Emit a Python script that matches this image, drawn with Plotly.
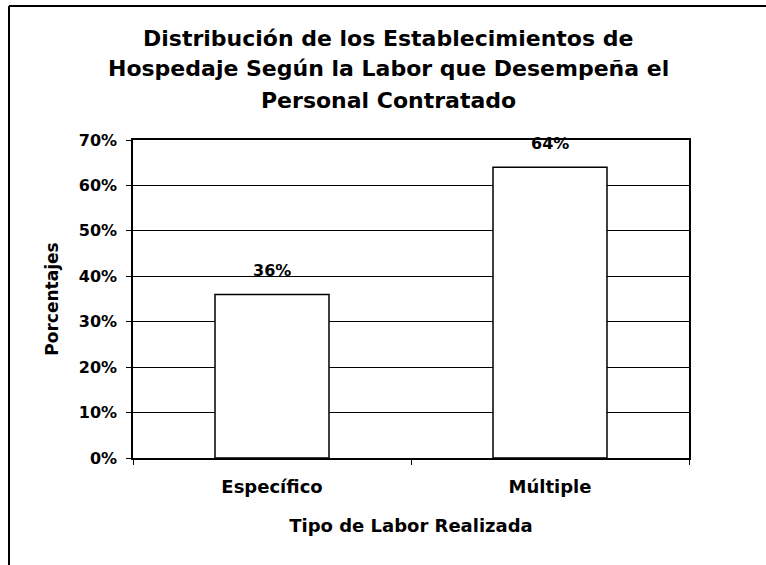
import plotly.graph_objects as go

categories = ["Específico", "Múltiple"]
values = [36, 64]
y_ticks = [0, 10, 20, 30, 40, 50, 60, 70]
y_tick_labels = [f"{v}%" for v in y_ticks]
title_lines = ["Distribución de los Establecimientos de",
               "Hospedaje Según la Labor que Desempeña el",
               "Personal Contratado"]

FONT = "DejaVu Sans"
W, H = 766, 565
L, R, T, B = 133, 77, 140, 107

fig = go.Figure()
fig.add_trace(go.Bar(
    x=categories, y=values,
    marker=dict(color="white", line=dict(color="black", width=1.5)),
    width=0.41,
    hoverinfo="skip",
))

for c, v in zip(categories, values):
    fig.add_annotation(x=c, y=v, text=f"{v}%", showarrow=False, yshift=24,
                       yanchor="middle", font=dict(family=FONT, size=16, color="black", weight=700))

pw = W - L - R
ph = H - T - B
def px_x(x):
    return (x - L) / pw
def px_y(y):
    return (H - B - y) / ph

for line, yc in zip(title_lines, [38, 69, 100]):
    fig.add_annotation(xref="paper", yref="paper", x=px_x(388), y=px_y(yc),
                       xanchor="center", yanchor="middle", showarrow=False, text=line,
                       font=dict(family=FONT, size=22, color="black", weight=700))

# frame lines of the scanned figure (left and top)
fig.add_shape(type="line", xref="paper", yref="paper",
              x0=px_x(9), x1=px_x(9), y0=px_y(6), y1=px_y(570),
              line=dict(color="black", width=2))
fig.add_shape(type="line", xref="paper", yref="paper",
              x0=px_x(9), x1=px_x(770), y0=px_y(6), y1=px_y(6),
              line=dict(color="black", width=2))

fig.update_layout(
    width=W, height=H,
    margin=dict(l=L, r=R, t=T, b=B, autoexpand=False),
    paper_bgcolor="white", plot_bgcolor="white",
    showlegend=False,
    xaxis=dict(
        showline=True, linecolor="black", linewidth=1.5, mirror=True,
        ticks="outside", ticklen=5, tickcolor="black", tickson="boundaries",
        showgrid=False,
        tickfont=dict(family=FONT, size=18, color="black", weight=700),
        ticklabelstandoff=12,
        title=dict(text="Tipo de Labor Realizada", standoff=23,
                   font=dict(family=FONT, size=18, color="black", weight=700)),
    ),
    yaxis=dict(
        range=[0, 70], tickvals=y_ticks, ticktext=y_tick_labels,
        showline=True, linecolor="black", linewidth=1.5, mirror=True,
        ticks="outside", ticklen=5, tickcolor="black",
        showgrid=True, gridcolor="black", gridwidth=1,
        zeroline=False,
        tickfont=dict(family=FONT, size=16, color="black", weight=700),
        ticklabelstandoff=6,
        title=dict(text="Porcentajes", standoff=16,
                   font=dict(family=FONT, size=17, color="black", weight=700)),
    ),
)

fig.write_html("out.html", config={"displayModeBar": False},
               post_script="document.body.style.margin='0';")
